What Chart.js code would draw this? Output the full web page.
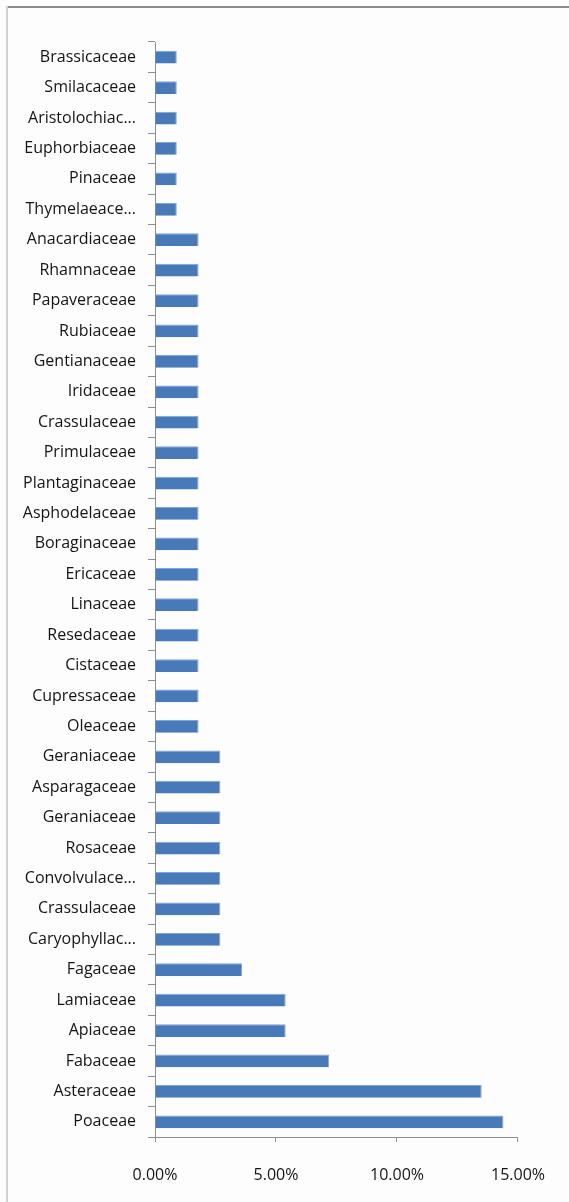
<!DOCTYPE html>
<html>
<head>
<meta charset="utf-8">
<script src="https://cdn.jsdelivr.net/npm/chart.js@4/dist/chart.umd.min.js"></script>
<style>
  html, body { margin: 0; padding: 0; background: #ffffff; }
  #wrap { position: relative; width: 569px; height: 1202px; overflow: hidden; background: #fdfdfd; }
  #frameTop { position: absolute; left: 6px; top: 6px; width: 563px; height: 2px; background: #8c8c8c; }
  #frameLeft { position: absolute; left: 6px; top: 6px; width: 2px; height: 1196px; background: #d2d2d2; }
  canvas { position: absolute; left: 0; top: 0; }
</style>
</head>
<body>
<div id="wrap">
  <canvas id="chart" width="569" height="1202"></canvas>
  <div id="frameTop"></div>
  <div id="frameLeft"></div>
</div>
<script>
// Plant families, listed top to bottom
const families = [
  "Brassicaceae", "Smilacaceae", "Aristolochiac...", "Euphorbiaceae", "Pinaceae", "Thymelaeace...",
  "Anacardiaceae", "Rhamnaceae", "Papaveraceae", "Rubiaceae", "Gentianaceae", "Iridaceae",
  "Crassulaceae", "Primulaceae", "Plantaginaceae", "Asphodelaceae", "Boraginaceae", "Ericaceae",
  "Linaceae", "Resedaceae", "Cistaceae", "Cupressaceae", "Oleaceae",
  "Geraniaceae", "Asparagaceae", "Geraniaceae", "Rosaceae", "Convolvulace...", "Crassulaceae",
  "Caryophyllac...", "Fagaceae", "Lamiaceae", "Apiaceae", "Fabaceae", "Asteraceae", "Poaceae"
];

// Share of species per family (%)
const shares = [
  0.90, 0.90, 0.90, 0.90, 0.90, 0.90,
  1.80, 1.80, 1.80, 1.80, 1.80, 1.80,
  1.80, 1.80, 1.80, 1.80, 1.80, 1.80,
  1.80, 1.80, 1.80, 1.80, 1.80,
  2.70, 2.70, 2.70, 2.70, 2.70, 2.70,
  2.70, 3.60, 5.40, 5.40, 7.20, 13.50, 14.40
];

// Percentage axis
const axisMin = 0;
const axisMax = 15;
const axisStep = 5;

const labelFont = { family: "'Open Sans', Lato, sans-serif", size: 16 };

new Chart(document.getElementById("chart"), {
  type: "bar",
  data: {
    labels: families,
    datasets: [{
      data: shares,
      backgroundColor: "#4879b9",
      borderColor: "#7ea6d8",
      borderWidth: { top: 1, right: 1, bottom: 0, left: 0 },
      borderSkipped: false,
      categoryPercentage: 1.0,
      barPercentage: 0.42
    }]
  },
  options: {
    indexAxis: "y",
    responsive: false,
    animation: false,
    layout: { padding: { top: 42, right: 49, left: 0, bottom: 0 } },
    plugins: { legend: { display: false }, tooltip: { enabled: false } },
    scales: {
      x: {
        min: axisMin,
        max: axisMax,
        ticks: {
          stepSize: axisStep,
          color: "#141414",
          font: labelFont,
          padding: 24,
          maxRotation: 0,
          callback: v => v.toFixed(2) + "%"
        },
        grid: {
          drawOnChartArea: false,
          drawTicks: true,
          tickLength: 5,
          color: "#8f8f8f"
        },
        border: { color: "#8f8f8f", width: 1 },
        afterFit: s => { s.height = 65; }
      },
      y: {
        ticks: {
          color: "#141414",
          font: labelFont,
          padding: 12,
          autoSkip: false
        },
        grid: {
          offset: true,
          drawOnChartArea: false,
          drawTicks: true,
          tickLength: 7,
          color: "#8f8f8f"
        },
        border: { color: "#8f8f8f", width: 1 },
        afterFit: s => { s.width = 155; }
      }
    }
  }
});
</script>
</body>
</html>
